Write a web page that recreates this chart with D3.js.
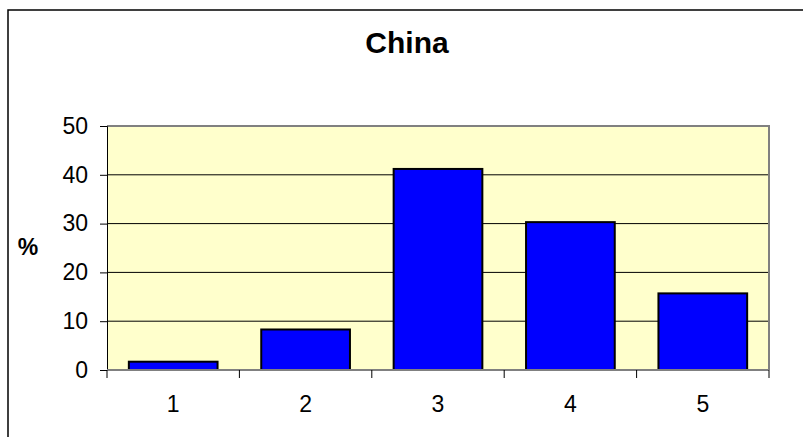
<!DOCTYPE html>
<html><head><meta charset="utf-8">
<script src="https://cdn.jsdelivr.net/npm/d3@7"></script>
<style>body{margin:0;background:#fff}svg{display:block;font-family:Arial,"Liberation Sans",sans-serif}</style>
</head><body>
<svg id="c" width="803" height="437"></svg>
<script>
const title = "China";
const categories = ["1","2","3","4","5"];
const values = [1.7, 8.3, 41.2, 30.3, 15.7];
const yTicks = [0,10,20,30,40,50];
const yLabel = "%";

const svg = d3.select("#c");
const L = 107, R = 769, T = 126, B = 370;

svg.append("rect").attr("x",8).attr("y",10).attr("width",820).attr("height",450)
  .attr("fill","#fff").attr("stroke","#000").attr("stroke-width",1.5);

const x = d3.scaleBand().domain(categories).range([L,R]).paddingInner(0.33).paddingOuter(0.165);
const xb = d3.scaleLinear().domain([0,categories.length]).range([L,R]);
const y = d3.scaleLinear().domain([0,50]).range([B,T]);

svg.append("rect").attr("x",L).attr("y",T).attr("width",R-L).attr("height",B-T)
  .attr("fill","#FFFFCC");

svg.append("g").selectAll("line").data(yTicks.filter(d=>d>0 && d<50)).join("line")
  .attr("x1",L).attr("x2",R).attr("y1",d=>y(d)).attr("y2",d=>y(d))
  .attr("stroke","#000").attr("stroke-width",1);

svg.append("path").attr("d",`M${L},${T}H${R}V${B}`).attr("fill","none")
  .attr("stroke","#808080").attr("stroke-width",2);

svg.append("g").selectAll("rect").data(values).join("rect")
  .attr("x",(d,i)=>x(categories[i])).attr("width",x.bandwidth())
  .attr("y",d=>y(d)).attr("height",d=>B-y(d))
  .attr("fill","#0000FF").attr("stroke","#000").attr("stroke-width",2);

const ya = d3.axisLeft(y).tickValues(yTicks).tickSize(7).tickPadding(12);
const gy = svg.append("g").attr("transform",`translate(${L},0)`).call(ya);
gy.attr("font-size",null).attr("font-family",null);
gy.select(".domain").attr("stroke","#000");
gy.selectAll("text").style("font-size","23px").attr("fill","#000");
gy.selectAll(".tick line").attr("stroke","#000");

const gx = svg.append("g").attr("transform",`translate(0,${B})`);
gx.append("line").attr("x1",L).attr("x2",R).attr("stroke","#808080").attr("stroke-width",2);
gx.selectAll("line.t").data(d3.range(categories.length+1)).join("line").attr("class","t")
  .attr("x1",d=>xb(d)).attr("x2",d=>xb(d)).attr("y1",0).attr("y2",8).attr("stroke","#000");
gx.selectAll("text").data(categories).join("text")
  .attr("x",d=>x(d)+x.bandwidth()/2).attr("y",42).attr("text-anchor","middle")
  .style("font-size","23px").text(d=>d);

svg.append("text").attr("x",407).attr("y",53).attr("text-anchor","middle")
  .style("font-size","30px").attr("font-weight","bold").text(title);
svg.append("text").attr("x",28).attr("y",255).attr("text-anchor","middle")
  .style("font-size","23px").attr("font-weight","bold").text(yLabel);
</script>
</body></html>
